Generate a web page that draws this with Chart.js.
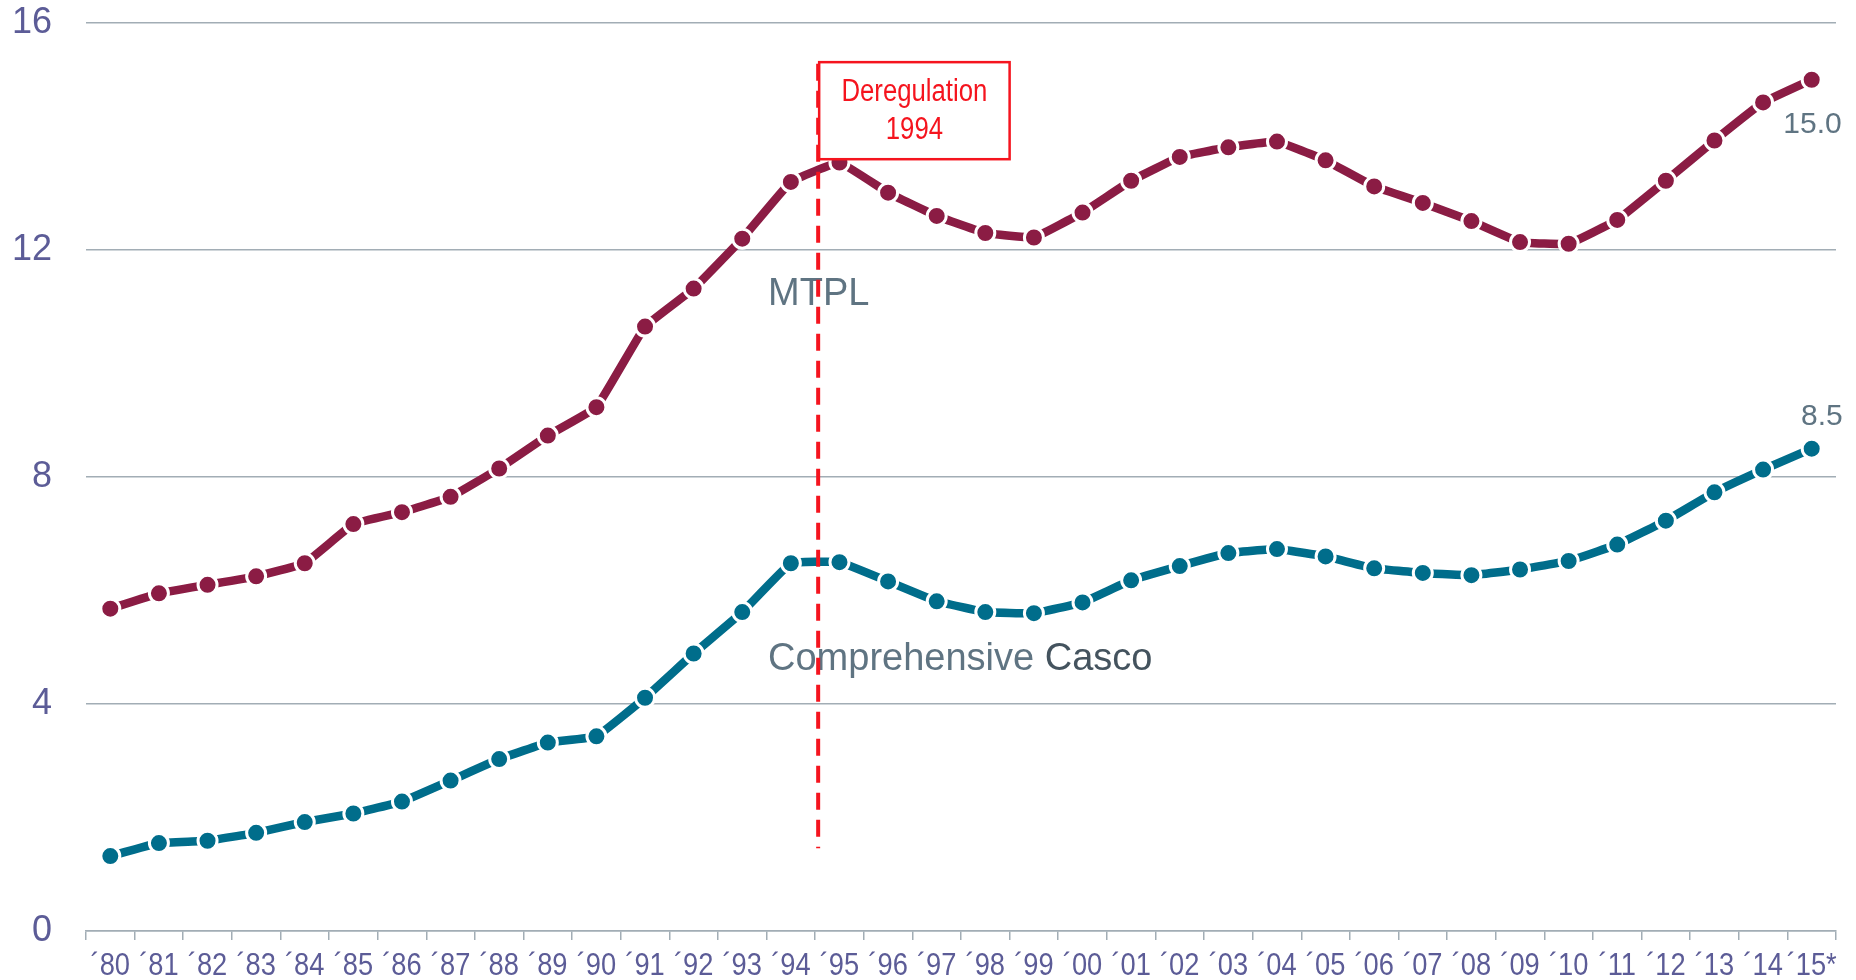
<!DOCTYPE html>
<html>
<head>
<meta charset="utf-8">
<script src="https://cdn.jsdelivr.net/npm/chart.js@4/dist/chart.umd.min.js"></script>
<style>
  html, body { margin: 0; padding: 0; background: #fff; }
  #wrap { width: 1856px; height: 980px; }
</style>
</head>
<body>
<div id="wrap"><canvas id="premiumChart"></canvas></div>
<script>
const years = ['´80', '´81', '´82', '´83', '´84', '´85', '´86', '´87', '´88', '´89',
               '´90', '´91', '´92', '´93', '´94', '´95', '´96', '´97', '´98', '´99',
               '´00', '´01', '´02', '´03', '´04', '´05', '´06', '´07', '´08', '´09',
               '´10', '´11', '´12', '´13', '´14', '´15*'];

const mtpl = [5.68, 5.95, 6.10, 6.25, 6.48, 7.17, 7.38, 7.65, 8.15, 8.73,
              9.23, 10.65, 11.32, 12.20, 13.20, 13.54, 13.01, 12.60, 12.30, 12.22,
              12.66, 13.22, 13.64, 13.81, 13.91, 13.58, 13.12, 12.83, 12.51, 12.14,
              12.11, 12.53, 13.22, 13.93, 14.60, 15.0];

const casco = [1.32, 1.55, 1.59, 1.73, 1.92, 2.07, 2.28, 2.65, 3.03, 3.32,
               3.43, 4.11, 4.89, 5.62, 6.48, 6.50, 6.16, 5.81, 5.62, 5.60,
               5.79, 6.18, 6.43, 6.66, 6.73, 6.60, 6.39, 6.31, 6.27, 6.37,
               6.52, 6.81, 7.23, 7.73, 8.13, 8.50];

const yTicks = [0, 4, 8, 12, 16];

const mtplColor = '#8b1c44';
const cascoColor = '#006d8b';
const tickColor = '#5c5c97';
const gridColor = '#a2adb5';
const noteColor = '#5f7482';
const red = '#f5141e';

// Deregulation marker sits between '94 and '95
const deregX = 14.5;

const font = "'Liberation Sans', Arial, sans-serif";

// no narrow face installed, so squeeze regular text horizontally
function narrowText(ctx, text, x, y, squeeze) {
    ctx.save();
    ctx.translate(x, y);
    ctx.scale(squeeze, 1);
    ctx.textAlign = 'center';
    ctx.fillText(text, 0, 0);
    ctx.restore();
}

const notesPlugin = {
    id: 'notes',
    afterDraw(chart) {
        const ctx = chart.ctx;
        const x = chart.scales.x;
        ctx.save();
        // x tick labels, condensed
        ctx.font = "31px " + font;
        ctx.fillStyle = tickColor;
        ctx.textBaseline = 'alphabetic';
        years.forEach((lab, i) => {
            narrowText(ctx, lab, x.getPixelForTick(i), x.bottom - 5, 0.88);
        });
        ctx.restore();
    },
    afterDatasetsDraw(chart) {
        const ctx = chart.ctx;
        const x = chart.scales.x;
        const y = chart.scales.y;
        ctx.save();

        // series names
        ctx.font = "38px " + font;
        ctx.textAlign = 'left';
        ctx.textBaseline = 'alphabetic';
        ctx.fillStyle = noteColor;
        const cx = x.getPixelForValue(13.53);
        ctx.fillText('MTPL', cx, y.getPixelForValue(11.03));
        const cy = y.getPixelForValue(4.6);
        ctx.fillText('Comprehensive ', cx, cy);
        const w = ctx.measureText('Comprehensive ').width;
        ctx.fillStyle = '#44535e';
        ctx.fillText('Casco', cx + w, cy);

        // last values
        ctx.font = "30px " + font;
        ctx.textAlign = 'right';
        ctx.fillStyle = noteColor;
        const last = years.length - 1;
        ctx.fillText(mtpl[last].toFixed(1), x.getPixelForValue(last) + 30, y.getPixelForValue(14.06));
        ctx.fillText(casco[last].toFixed(1), x.getPixelForValue(last) + 31, y.getPixelForValue(8.92));

        // dashed deregulation line
        const lx = x.getPixelForValue(deregX) + 3;
        ctx.strokeStyle = red;
        ctx.lineWidth = 4;
        ctx.setLineDash([17, 10]);
        ctx.beginPath();
        ctx.moveTo(lx, y.getPixelForValue(15.28));
        ctx.lineTo(lx, y.getPixelForValue(1.46));
        ctx.stroke();
        ctx.setLineDash([]);

        // label box
        const bx1 = x.getPixelForValue(deregX) + 4;
        const bx2 = x.getPixelForValue(18.5);
        const by1 = y.getPixelForValue(15.31);
        const by2 = y.getPixelForValue(13.6);
        ctx.fillStyle = '#ffffff';
        ctx.fillRect(bx1, by1, bx2 - bx1, by2 - by1);
        ctx.strokeStyle = red;
        ctx.lineWidth = 2.5;
        ctx.strokeRect(bx1, by1, bx2 - bx1, by2 - by1);
        ctx.fillStyle = red;
        ctx.font = "31px " + font;
        ctx.textBaseline = 'middle';
        const mid = (bx1 + bx2) / 2;
        narrowText(ctx, 'Deregulation', mid, by1 + 30, 0.83);
        narrowText(ctx, '1994', mid, by1 + 68, 0.83);

        ctx.restore();
    }
};

const seriesStyle = {
    borderWidth: 8.5,
    pointRadius: 9.5,
    pointBorderWidth: 3,
    pointBorderColor: '#ffffff',
    pointHoverRadius: 9.5,
    tension: 0.08,
    fill: false
};

window.onload = function() {
    const ctx = document.getElementById('premiumChart').getContext('2d');
    new Chart(ctx, {
        type: 'line',
        data: {
            labels: years,
            datasets: [
                Object.assign({ label: 'MTPL', data: mtpl, borderColor: mtplColor, pointBackgroundColor: mtplColor }, seriesStyle),
                Object.assign({ label: 'Comprehensive Casco', data: casco, borderColor: cascoColor, pointBackgroundColor: cascoColor }, seriesStyle)
            ]
        },
        options: {
            responsive: true,
            maintainAspectRatio: false,
            animation: false,
            layout: { padding: { top: 23, right: 20, left: 0, bottom: 0 } },
            plugins: {
                legend: { display: false },
                tooltip: { enabled: false }
            },
            scales: {
                x: {
                    offset: true,
                    grid: {
                        offset: true,
                        drawOnChartArea: false,
                        drawTicks: true,
                        tickLength: 9,
                        color: gridColor,
                        lineWidth: 1.5
                    },
                    border: { display: true, color: gridColor, width: 1.5 },
                    ticks: { display: false, autoSkip: false, maxRotation: 0 },
                    afterFit(scale) {
                        scale.height = 49;
                        scale.paddingLeft = 0;
                        scale.paddingRight = 0;
                    }
                },
                y: {
                    min: 0,
                    max: 16,
                    afterBuildTicks(scale) {
                        scale.ticks = yTicks.map(v => ({ value: v }));
                    },
                    grid: {
                        drawTicks: false,
                        color: gridColor,
                        lineWidth: 1.5
                    },
                    border: { display: false },
                    ticks: {
                        padding: 34,
                        color: tickColor,
                        font: { family: font, size: 36 }
                    },
                    afterFit(scale) {
                        scale.width = 86;
                        scale.paddingTop = 0;
                        scale.paddingBottom = 0;
                    }
                }
            }
        },
        plugins: [notesPlugin]
    });
};
</script>
</body>
</html>
